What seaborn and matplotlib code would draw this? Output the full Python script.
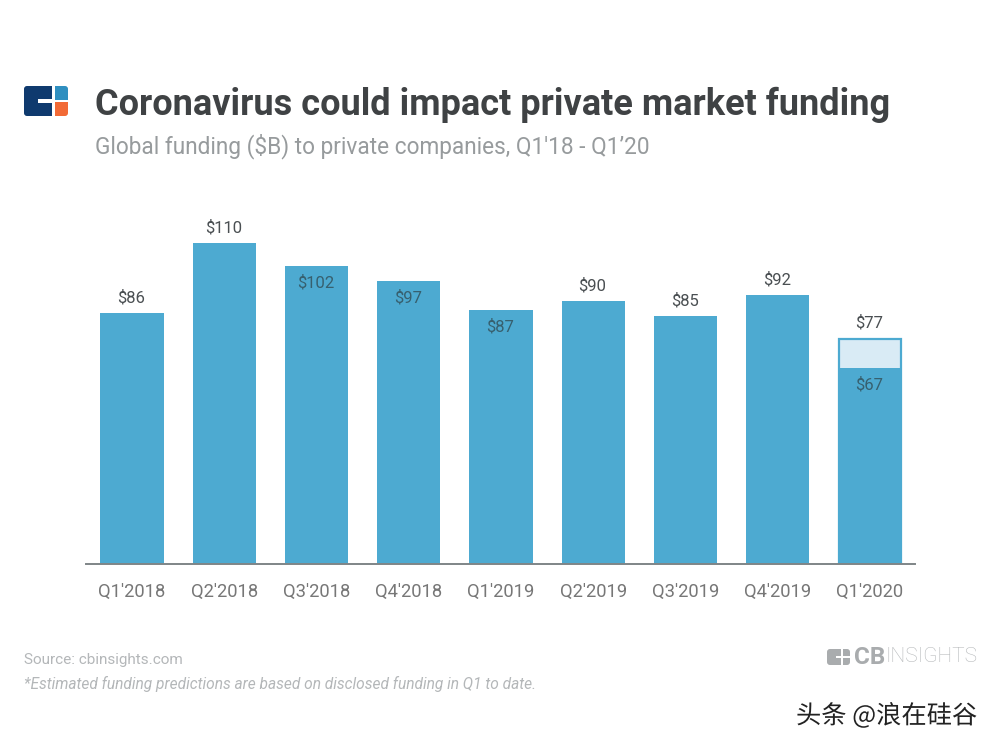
import matplotlib
matplotlib.use('Agg')
from matplotlib import pyplot as plt
from matplotlib.patches import FancyBboxPatch, Rectangle
from matplotlib.transforms import Affine2D
import matplotlib.patheffects as pe
import pandas as pd
import seaborn as sns

quarters = ["Q1'2018", "Q2'2018", "Q3'2018", "Q4'2018", "Q1'2019",
            "Q2'2019", "Q3'2019", "Q4'2019", "Q1'2020"]
funding = [86, 110, 102, 97, 87, 90, 85, 92, 67]
estimate_quarter = ["Q1'2020"]
estimate_value = [77]

W, H = 1000, 750
BLUE = '#4daad1'

sns.set_theme(style='white')
plt.rcParams['font.family'] = ['Roboto', 'DejaVu Sans']

df = pd.DataFrame({'quarter': quarters, 'funding': funding})
df_est = pd.DataFrame({'quarter': estimate_quarter, 'funding': estimate_value})

fig = plt.figure(figsize=(10, 7.5), dpi=100, facecolor='white')
ax = fig.add_axes([86 / W, 1 - 564 / H, 829 / W, 364 / H])

sns.barplot(df_est, x='quarter', y='funding', order=quarters, color='#d9ebf5', saturation=1,
            width=0.68, edgecolor=BLUE, linewidth=1.6, ax=ax)
sns.barplot(df, x='quarter', y='funding', order=quarters, color=BLUE, saturation=1,
            width=0.688, linewidth=0, ax=ax)

ax.set_xlim(-0.499, 8.488)
ax.set_ylim(0, 124.6)
ax.set_xlabel('')
ax.set_ylabel('')
ax.set_yticks([])
sns.despine(ax=ax, left=True)
ax.spines['bottom'].set_color('#7f8587')
ax.spines['bottom'].set_linewidth(1.4)
ax.tick_params(axis='x', length=0, pad=13.5, labelsize=13.2, labelcolor='#777777')

# value labels, some sit above the bar and some inside it
above = [True, True, False, False, False, True, True, True, False]
for i, v in enumerate(funding):
    if above[i]:
        ax.annotate(f'${v}', (i, v), xytext=(-0.5, 10.8), textcoords='offset points', ha='center', va='center',
                    fontsize=12, color='#4a4f52')
    else:
        ax.annotate(f'${v}', (i, v), xytext=(-0.5, -12.2), textcoords='offset points', ha='center', va='center',
                    fontsize=12, color='#37606f')
ax.annotate(f'${estimate_value[0]}', (8, estimate_value[0]), xytext=(-0.5, 11.5), textcoords='offset points',
            ha='center', va='center', fontsize=12, color='#4a4f52')


def fx(x):
    return x / W


def fy(y):
    return 1 - y / H


fig.text(fx(95), fy(105), 'Coronavirus could impact private market funding', fontsize=26, weight='bold',
         color='#3f4244', va='center')
fig.text(fx(95), fy(146), "Global funding ($B) to private companies, Q1'18 - Q1\u201920", fontsize=16.3,
         color='#979b9d', va='center')
fig.text(fx(24), fy(660), 'Source: cbinsights.com', fontsize=11, color='#b4b7b9', va='center')
fig.text(fx(24), fy(684), '*Estimated funding predictions are based on disclosed funding in Q1 to date.',
         fontsize=11.2, style='italic', color='#b4b7b9', va='center')

pix = Affine2D().scale(1 / W, 1 / H) + fig.transFigure


def box(x0, y0, x1, y1, color, rounded=False):
    if rounded:
        p = FancyBboxPatch((x0, H - y1), x1 - x0, y1 - y0, boxstyle='round,pad=0,rounding_size=3',
                           transform=pix, facecolor=color, edgecolor='none')
    else:
        p = Rectangle((x0, H - y1), x1 - x0, y1 - y0, transform=pix, facecolor=color, edgecolor='none')
    fig.add_artist(p)


# CB logo top left
box(24, 86, 52, 116, '#0f3a6e', True)
box(40, 86, 52, 116, '#0f3a6e')
box(38, 99, 52, 103, 'white')
box(55, 86, 68, 100, '#2f8fc0', True)
box(55, 86, 60, 100, '#2f8fc0')
box(55, 94, 68, 100, '#2f8fc0')
box(55, 102, 68, 116, '#f26a36', True)
box(55, 102, 60, 116, '#f26a36')
box(55, 102, 68, 108, '#f26a36')

# grey logo bottom right
box(827, 649, 850, 665, '#a9acae', True)
box(836, 656, 850, 658, 'white')
box(841, 649, 843, 665, 'white')
fig.text(fx(854), fy(657), 'CB', fontsize=17.5, weight='bold', color='#a9acae', va='center')
fig.text(fx(886), fy(657), 'INSIGHTS', fontsize=15, weight='light', color='#b4b7b9', va='center')

# watermark
fig.text(fx(796), fy(716), '头条 @浪在硅谷', fontsize=18.2, family=['Noto Sans CJK SC', 'DejaVu Sans'],
         color='#222222', va='center',
         path_effects=[pe.withStroke(linewidth=1.5, foreground='white')])

fig.savefig('out.png', dpi=100)
